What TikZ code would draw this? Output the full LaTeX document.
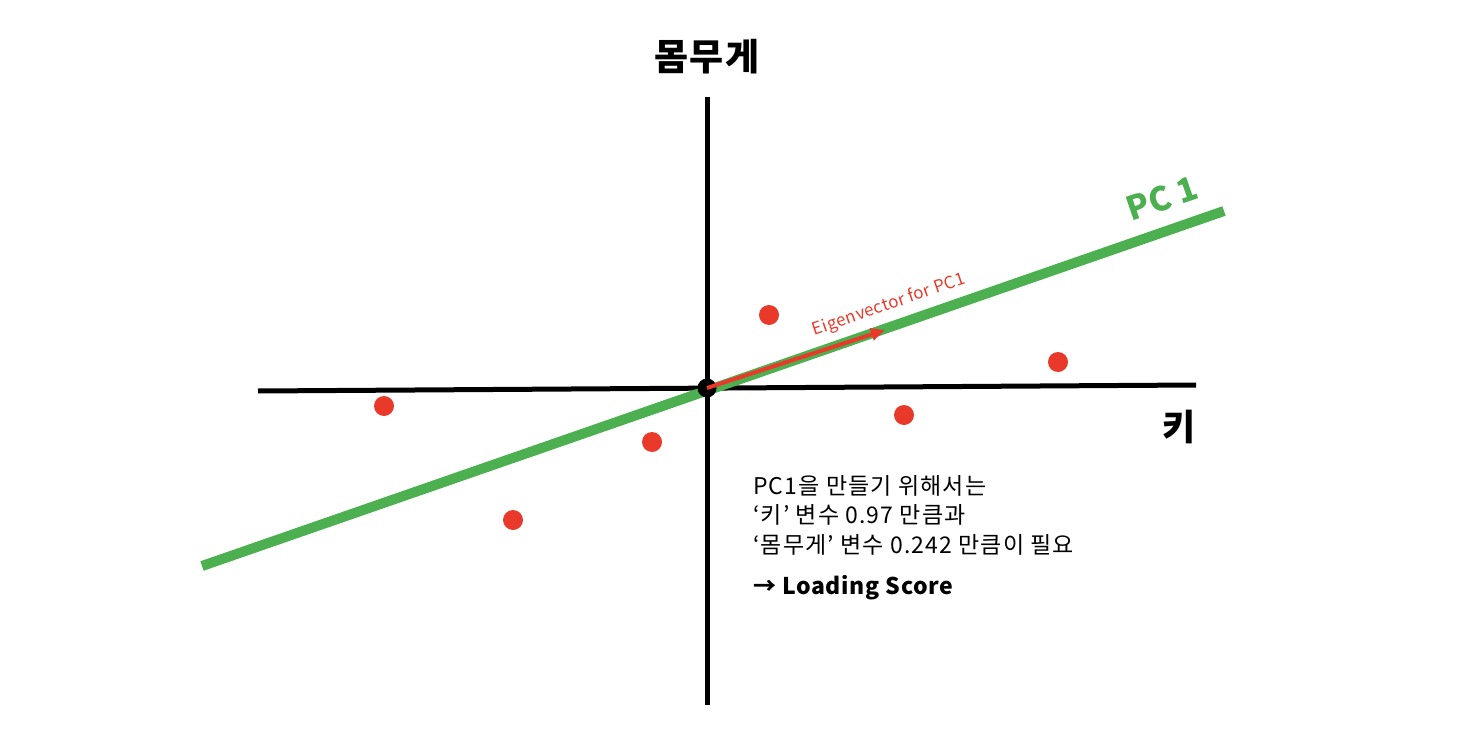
\documentclass[tikz,border=0pt]{standalone}
\usepackage{fontspec}
\setmainfont{Noto Sans CJK KR}
\definecolor{pcgreen}{RGB}{76,175,80}
\definecolor{ptred}{RGB}{232,57,42}
\usetikzlibrary{arrows.meta}
\tikzset{
  axis/.style={line width=5pt, black},
  pt/.style={circle, fill=ptred, inner sep=0pt, minimum size=20pt},
  lbl/.style={font=\fontsize{36}{42}\selectfont\bfseries, inner sep=0pt},
}
\begin{document}
\begin{tikzpicture}[x=1pt,y=-1pt]
\useasboundingbox (0,0) rectangle (1458,738);
% axes
\coordinate (vtop) at (707,97);
\coordinate (vbot) at (707,705);
\coordinate (hl) at (258,391);
\coordinate (hr) at (1196,385);
\draw[axis] (vtop) -- (vbot);
\draw[axis] (hl) -- (hr);
% PC1 line
\coordinate (gl) at (202,566);
\coordinate (gr) at (1224,211);
\draw[pcgreen, line width=10pt] (gl) -- (gr);
% origin
\node[circle, fill=black, inner sep=0pt, minimum size=19pt] (o) at (707,388) {};
% eigenvector
\coordinate (ev) at (885,330);
\draw[ptred, line width=4pt, -{Triangle[length=14pt,width=12pt]}] (o.center) -- (ev);
\node[ptred, rotate=19, font=\fontsize{17}{20}\selectfont\addfontfeatures{LetterSpace=2}, inner sep=0pt] (evl) at (889,305) {Eigenvector for PC1};
% points
\node[pt] (p1) at (769,315) {};
\node[pt] (p2) at (1058,362) {};
\node[pt] (p3) at (384,406) {};
\node[pt] (p4) at (652,442) {};
\node[pt] (p5) at (904,415) {};
\node[pt] (p6) at (513,520) {};
% labels
\node[lbl, font=\fontsize{37}{42}\selectfont\bfseries\addfontfeatures{LetterSpace=3}] (ylab) at (707,57) {몸무게};
\node[lbl] (xlab) at (1179,427) {키};
\node[pcgreen, rotate=19, font=\fontsize{33}{38}\selectfont\bfseries, inner sep=0pt] (pclab) at (1162,198) {PC 1};
% text block
\node[anchor=north west, align=left, inner sep=0pt, font=\fontsize{23}{29.5}\selectfont\addfontfeatures{LetterSpace=5}] (txt) at (753,475) {PC1을 만들기 위해서는\\‘키’ 변수 0.97 만큼과\\‘몸무게’ 변수 0.242 만큼이 필요};
\node[anchor=west, inner sep=0pt, font=\fontsize{23}{29}\selectfont\bfseries\addfontfeatures{LetterSpace=3}] (ls) at (753,588) {→ Loading Score};
\end{tikzpicture}
\end{document}
